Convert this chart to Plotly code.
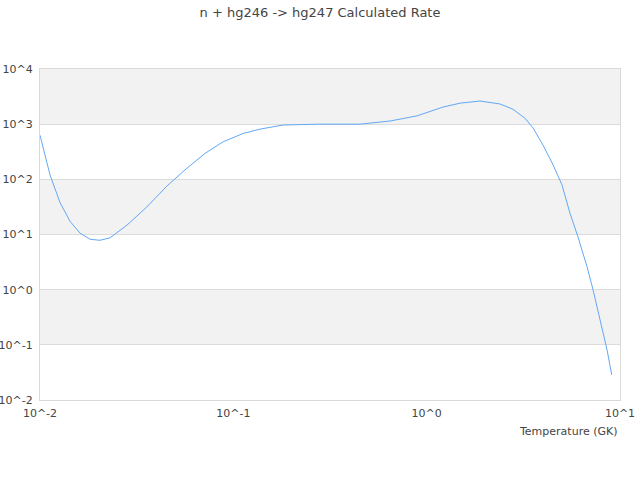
import plotly.graph_objects as go

# temperature grid (GK) and calculated rate
temperature = [0.0100, 0.01127, 0.01269, 0.01429, 0.01610, 0.01815, 0.02043, 0.02301,
               0.02818, 0.0357, 0.0454, 0.0562, 0.0713, 0.0885, 0.1122, 0.1374,
               0.1807, 0.2807, 0.4519, 0.6457, 0.891, 1.216, 1.486, 1.888,
               2.394, 2.797, 3.228, 3.551, 4.00, 4.51, 5.01, 5.51,
               6.06, 6.75, 7.25, 7.88, 8.57, 9.06]
rate = [631, 120, 38, 17.4, 10.6, 8.2, 7.85, 8.7,
        14.8, 31.6, 75.9, 148, 295, 479, 676, 813,
        966, 1000, 1000, 1140, 1413, 2042, 2399, 2630,
        2323, 1862, 1276, 851, 417, 182, 79.4, 24.3,
        9.12, 2.61, 1.0, 0.282, 0.0813, 0.0285]

x_ticks = [0.01, 0.1, 1, 10]
x_labels = ["10^-2", "10^-1", "10^0", "10^1"]
y_ticks = [0.01, 0.1, 1, 10, 100, 1000, 10000]
y_labels = ["10^-2", "10^-1", "10^0", "10^1", "10^2", "10^3", "10^4"]

fig = go.Figure()
fig.add_trace(go.Scatter(x=temperature, y=rate, mode="lines",
                         line=dict(color="#62a8f3", width=1),
                         showlegend=False))

# shaded bands every other decade
for lo, hi in [(5/6, 1), (1/2, 2/3), (1/6, 1/3)]:
    fig.add_shape(type="rect", xref="x domain", yref="y domain",
                  x0=0, x1=1, y0=lo, y1=hi,
                  fillcolor="#f2f2f2", line_width=0, layer="below")

fig.add_annotation(text="Temperature (GK)", xref="paper", yref="paper",
                   x=1, y=-0.094, xanchor="right", yanchor="middle",
                   showarrow=False, font=dict(size=11, color="#444"))

fig.update_layout(
    width=640, height=480,
    margin=dict(l=40, r=20, t=69, b=80),
    paper_bgcolor="white", plot_bgcolor="white",
    font=dict(family="DejaVu Sans", size=11, color="#444"),
    title=dict(text="n + hg246 -> hg247 Calculated Rate", x=0.5, xanchor="center",
               y=0.975, yanchor="middle", font=dict(size=13, color="#444")),
)
fig.update_xaxes(type="log", range=[-2, 1], tickvals=x_ticks, ticktext=x_labels,
                 showgrid=False, zeroline=False, showline=True, mirror=True,
                 linecolor="#d9d9d9", linewidth=1, ticks="", automargin=False,
                 ticklabelstandoff=3)
fig.update_yaxes(type="log", range=[-2, 4], tickvals=y_ticks, ticktext=y_labels,
                 showgrid=True, gridcolor="#dcdcdc", zeroline=False, showline=True,
                 mirror=True, linecolor="#d9d9d9", linewidth=1, ticks="", automargin=False,
                 ticklabelstandoff=4)

# page body has a default 8px margin; drop it so the figure sits at the corner
fig.write_html("out.html", config={"displayModeBar": False},
               post_script="document.body.style.margin='0';")
